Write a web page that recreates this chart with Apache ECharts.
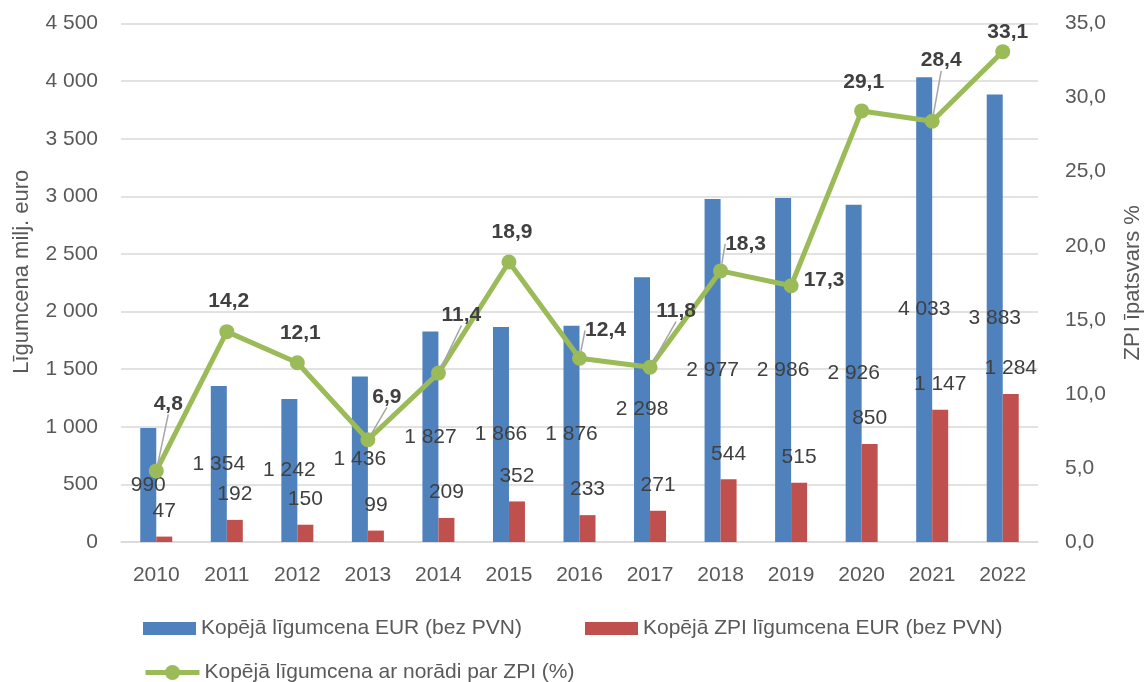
<!DOCTYPE html>
<html>
<head>
<meta charset="utf-8">
<script src="https://cdn.jsdelivr.net/npm/echarts@6/dist/echarts.min.js"></script>
<style>html,body{margin:0;padding:0;background:#fff}#c{width:1144px;height:682px}</style>
</head>
<body>
<div id="c"></div>
<script>
const years = ['2010','2011','2012','2013','2014','2015','2016','2017','2018','2019','2020','2021','2022'];
const totalValues = [990,1354,1242,1436,1827,1866,1876,2298,2977,2986,2926,4033,3883];
const zpiValues = [47,192,150,99,209,352,233,271,544,515,850,1147,1284];
const sharePct = [4.8,14.2,12.1,6.9,11.4,18.9,12.4,11.8,18.3,17.3,29.1,28.4,33.1];
const leftTicks = {min:0, max:4500, interval:500};
const rightTicks = {min:0, max:35, interval:5};
const names = ['Kopējā līgumcena EUR (bez PVN)','Kopējā ZPI līgumcena EUR (bez PVN)','Kopējā līgumcena ar norādi par ZPI (%)'];

// label placement tweaks for the percentage labels (dx, dy, leader line)
const pctLabelShift = [[12,-44,1],[2,-7,0],[3,-7,0],[19,-20,1],[23,-35,1],[3,-7,0],[26,-5,1],[26,-33,1],[25,-4,1],[33,17,0],[2,-6,0],[9,-38,1],[5,4,0]];

const FONT = "'Liberation Sans', Arial, sans-serif";
const fmtThousands = v => String(v).replace(/\B(?=(\d{3})+(?!\d))/g, ' ');
const fmtPct = v => Number(v).toFixed(1).replace('.', ',');
const legendText = {fontFamily:FONT, fontSize:21, color:'#595959'};

const chart = echarts.init(document.getElementById('c'));
chart.setOption({
  animation: false,
  textStyle: {fontFamily: FONT},
  grid: {left: 121, right: 106, top: 23.5, bottom: 140, containLabel: false, outerBoundsMode: 'none'},
  legend: [
    {data:[{name:names[0], icon:'rect'}], left:143, top:618, padding:0, itemWidth:53, itemHeight:13, itemGap:0, textStyle:legendText},
    {data:[{name:names[1], icon:'rect'}], left:585, top:618, padding:0, itemWidth:53, itemHeight:13, itemGap:0, textStyle:legendText},
    {data:[names[2]], left:143, top:662, padding:0, itemWidth:54, itemHeight:19, itemGap:0, textStyle:legendText,
     lineStyle:{width:5, color:'#9bbb59'}}
  ],
  xAxis: {
    type: 'category', data: years,
    axisLine: {lineStyle: {color: '#d9d9d9', width: 1.5}},
    axisTick: {show: false},
    axisLabel: {color: '#595959', fontSize: 21, margin: 23, fontFamily: FONT}
  },
  yAxis: [
    {type:'value', min:leftTicks.min, max:leftTicks.max, interval:leftTicks.interval,
     name:'Līgumcena milj. euro', nameLocation:'middle', nameGap:88, nameRotate:90,
     nameTextStyle:{color:'#595959', fontSize:22, fontFamily:FONT, padding:[0,0,0,22]},
     axisLine:{show:false}, axisTick:{show:false},
     axisLabel:{color:'#595959', fontSize:21, margin:23, formatter:fmtThousands},
     splitLine:{lineStyle:{color:'#d9d9d9', width:1.5}}},
    {type:'value', min:rightTicks.min, max:rightTicks.max, interval:rightTicks.interval,
     name:'ZPI īpatsvars %', nameLocation:'middle', nameGap:84, nameRotate:90,
     nameTextStyle:{color:'#595959', fontSize:22, fontFamily:FONT},
     axisLine:{show:false}, axisTick:{show:false},
     axisLabel:{color:'#595959', fontSize:21, margin:27, formatter:v=>fmtPct(v)},
     splitLine:{show:false}}
  ],
  series: [
    {name:names[0], type:'bar', data:totalValues, barWidth:16, barGap:'0%',
     itemStyle:{color:'#4f81bd'},
     label:{show:true, position:'inside', color:'#404040', fontSize:21, fontFamily:FONT,
            formatter:p=>fmtThousands(p.value)}},
    {name:names[1], type:'bar', data:zpiValues, barWidth:16, barGap:'0%',
     itemStyle:{color:'#c0504d'},
     label:{show:true, position:'top', distance:15, color:'#404040', fontSize:21, fontFamily:FONT,
            formatter:p=>fmtThousands(p.value)}},
    {name:names[2], type:'line', yAxisIndex:1, z:5,
     data: sharePct.map((v,i)=>({value:v, labelLine:{show: !!pctLabelShift[i][2]}})),
     symbol:'circle', symbolSize:15,
     lineStyle:{color:'#9bbb59', width:5},
     itemStyle:{color:'#9bbb59'},
     label:{show:true, position:'top', distance:5, color:'#404040', fontSize:21, fontWeight:'bold',
            fontFamily:FONT, formatter:p=>fmtPct(p.value)},
     labelLine:{show:true, lineStyle:{color:'#a6a6a6', width:1.5}},
     labelLayout: p => ({dx: pctLabelShift[p.dataIndex][0], dy: pctLabelShift[p.dataIndex][1]})}
  ]
});
</script>
</body>
</html>
